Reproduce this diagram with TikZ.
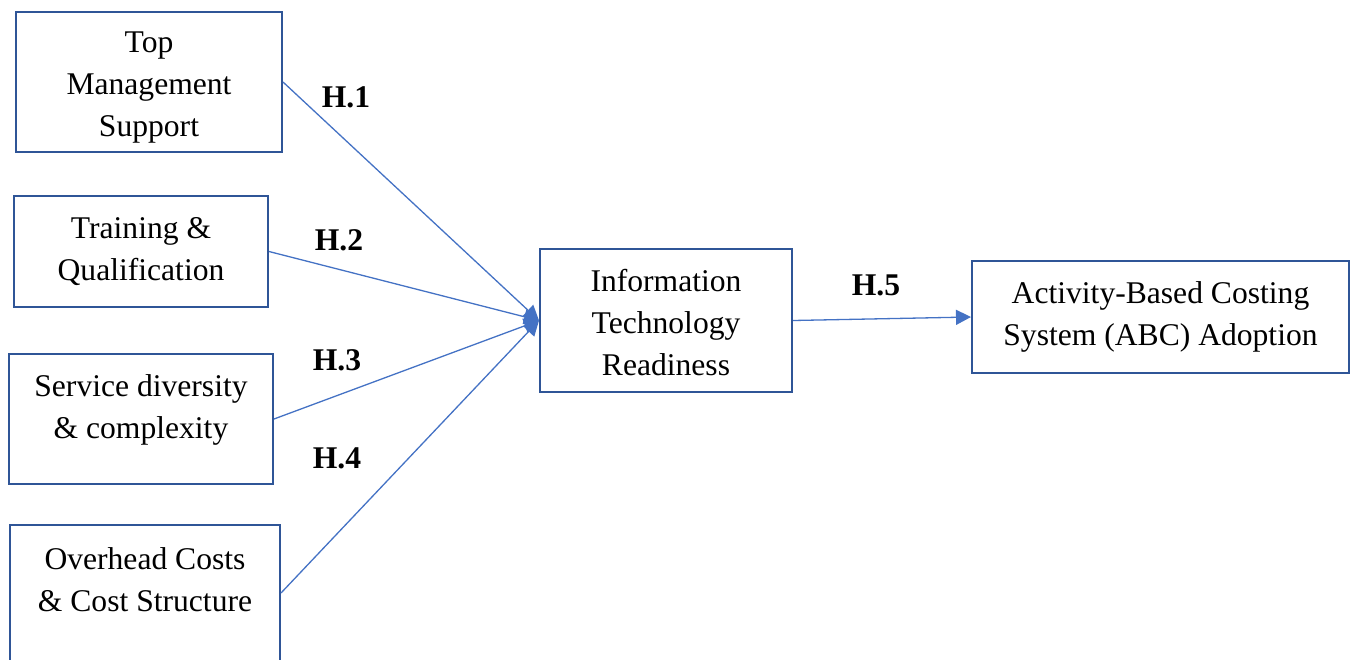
\documentclass[tikz,border=0pt]{standalone}
\usepackage{fontspec}
\setmainfont{Liberation Serif}
\usetikzlibrary{arrows.meta}
\definecolor{boxblue}{HTML}{2F5597}
\definecolor{linkblue}{HTML}{4472C4}
\begin{document}
\begin{tikzpicture}[x=1pt,y=-1pt,
  box/.style={draw=boxblue, line width=2pt, fill=white, rectangle, inner sep=0pt},
  txt/.style={align=center, inner sep=0pt, font=\fontsize{31.6}{42}\selectfont},
  hyp/.style={inner sep=0pt, font=\fontsize{31.6}{38}\selectfont\bfseries},
  link/.style={draw=linkblue, line width=1.3pt, -{Triangle[length=15pt,width=15pt]}}]
\clip (0,0) rectangle (1357,659);
\useasboundingbox (0,0) rectangle (1357,659);

% predictor boxes
\node[box, minimum width=266pt, minimum height=140pt] (b1) at (149,82) {};
\node[txt] (t1) at (149,88) {Top\\Management\\Support};
\node[box, minimum width=254pt, minimum height=111pt] (b2) at (141,251.5) {};
\node[txt] (t2) at (141,251.5) {Training \&\\Qualification};
\node[box, minimum width=264pt, minimum height=130pt] (b3) at (141,419) {};
\node[txt] (t3) at (141,410) {Service diversity\\\& complexity};
\node[box, minimum width=270pt, minimum height=136pt] (b4) at (145,593) {};
\node[txt] (t4) at (145,580) {Overhead Costs\\\& Cost Structure};

% mediator and outcome
\node[box, minimum width=252pt, minimum height=143pt] (b5) at (666,320.5) {};
\node[txt] (t5) at (666,322.5) {Information\\Technology\\Readiness};
\node[box, minimum width=377pt, minimum height=112pt] (b6) at (1160.5,317) {};
\node[txt] (t6) at (1160.5,317) {Activity-Based Costing\\System (ABC) Adoption};

% hypothesised paths
\draw[link] (b1.east) -- (b5.west);
\draw[link] (b2.east) -- (b5.west);
\draw[link] (b3.east) -- (b5.west);
\draw[link] (b4.east) -- (b5.west);
\draw[link] (b5.east) -- (b6.west);

% path labels
\node[hyp] (h1) at (346,97) {H.1};
\node[hyp] (h2) at (339,240) {H.2};
\node[hyp] (h3) at (337,360) {H.3};
\node[hyp] (h4) at (337,458) {H.4};
\node[hyp] (h5) at (876,285) {H.5};
\end{tikzpicture}
\end{document}
